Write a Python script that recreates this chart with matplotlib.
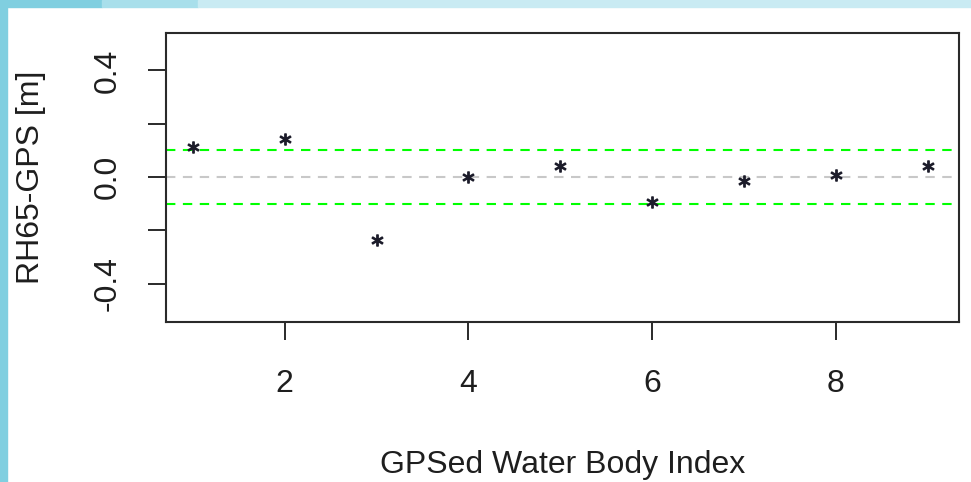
import numpy as np
import matplotlib
matplotlib.use("Agg")
import matplotlib.pyplot as plt
from matplotlib.patches import Rectangle

plt.rcParams['font.family'] = ['Liberation Sans', 'DejaVu Sans']

# height differences per surveyed water body
body_index = [1, 2, 3, 4, 5, 6, 7, 8, 9]
rh65_minus_gps = [0.111, 0.142, -0.235, 0.0, 0.040, -0.092, -0.016, 0.009, 0.040]
band = [-0.1, 0.1]

x_ticks = [2, 4, 6, 8]
y_ticks = [-0.4, -0.2, 0.0, 0.2, 0.4]
y_ticklabels = ['-0.4', '', '0.0', '', '0.4']

fig = plt.figure(figsize=(9.71, 4.82), dpi=100)
ax = fig.add_axes([166 / 971, 1 - 321.7 / 482, (959 - 166) / 971, (321.7 - 32.5) / 482])

# slide frame strips
fig.patches.append(Rectangle((0, 0), 7 / 971, 1, transform=fig.transFigure,
                             color='#80cfe0', zorder=0))
fig.patches.append(Rectangle((0, 1 - 7 / 482), 102 / 971, 7 / 482, transform=fig.transFigure,
                             color='#80cfe0', zorder=0))
fig.patches.append(Rectangle((102 / 971, 1 - 7 / 482), 96 / 971, 7 / 482, transform=fig.transFigure,
                             color='#a8dfeb', zorder=0))
fig.patches.append(Rectangle((198 / 971, 1 - 7 / 482), 773 / 971, 7 / 482, transform=fig.transFigure,
                             color='#c9ebf3', zorder=0))

ax.axhline(0, color='#c8c8c8', lw=1.5, dashes=(4.5, 3.6), zorder=1)
for b in band:
    ax.axhline(b, color='#00ff00', lw=1.5, dashes=(4.5, 3.6), zorder=2)

ax.plot(body_index, rh65_minus_gps, linestyle='none', marker='$*$',
        markersize=8, color='#1c1c2a', zorder=3)

ax.set_xlim(0.707, 9.34)
ax.set_ylim(-0.542, 0.542)
ax.set_xticks(x_ticks)
ax.set_yticks(y_ticks)
ax.set_yticklabels(y_ticklabels, rotation=90, va='center')

for s in ax.spines.values():
    s.set_linewidth(1.5)
    s.set_color('#2a2a2a')
ax.tick_params(axis='both', length=13, width=1.4, color='#2a2a2a',
               labelsize=23, labelcolor='#1e1e1e')
ax.tick_params(axis='x', pad=21)
ax.tick_params(axis='y', pad=18)

ax.set_xlabel('GPSed Water Body Index', fontsize=23, color='#1e1e1e', labelpad=37)
ax.set_ylabel('RH65-GPS [m]', fontsize=23, color='#1e1e1e', labelpad=34)

fig.savefig('out.png', dpi=100)
